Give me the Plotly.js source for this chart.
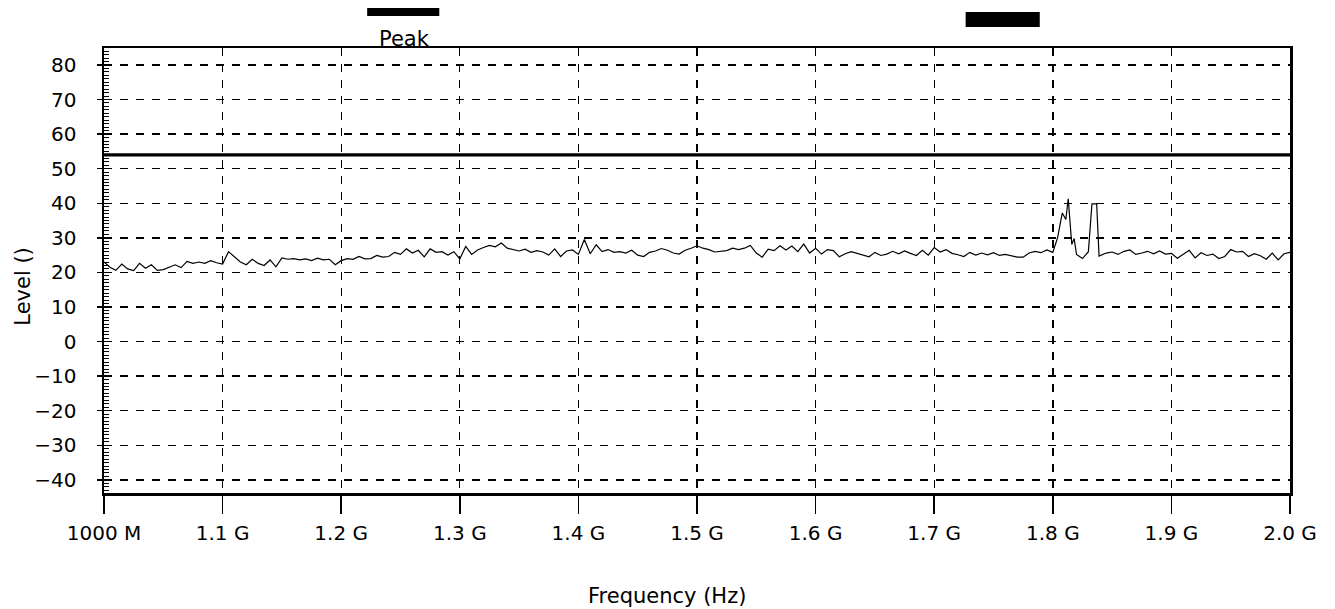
<!DOCTYPE html>
<html>
<head>
<meta charset="utf-8">
<script src="https://cdn.plot.ly/plotly-3.0.1.min.js"></script>
<style>html,body{margin:0;padding:0;background:#fff;}#chart{width:1335px;height:609px;}</style>
</head>
<body>
<div id="chart"></div>
<script>
// Frequency in MHz
const freqMHz = [
1000,1005,1010,1015,1020,1025,1030,1035,1040,1045,1050,1055,1060,1065,1070,1075,1080,1085,1090,1095,
1100,1105,1110,1115,1120,1125,1130,1135,1140,1145,1150,1155,1160,1165,1170,1175,1180,1185,1190,1195,
1200,1205,1210,1215,1220,1225,1230,1235,1240,1245,1250,1255,1260,1265,1270,1275,1280,1285,1290,1295,
1300,1305,1310,1315,1320,1325,1330,1335,1340,1345,1350,1355,1360,1365,1370,1375,1380,1385,1390,1395,
1400,1405,1410,1415,1420,1425,1430,1435,1440,1445,1450,1455,1460,1465,1470,1475,1480,1485,1490,1495,
1500,1505,1510,1515,1520,1525,1530,1535,1540,1545,1550,1555,1560,1565,1570,1575,1580,1585,1590,1595,
1600,1605,1610,1615,1620,1625,1630,1635,1640,1645,1650,1655,1660,1665,1670,1675,1680,1685,1690,1695,
1700,1705,1710,1715,1720,1725,1730,1735,1740,1745,1750,1755,1760,1765,1770,1775,1780,1785,1790,1795,
1800,1804,1808,1811,1813,1816,1818,1820,1825,1830,1833,1837,1839,1845,1850,1855,1860,1865,1870,1875,
1880,1885,1890,1895,1900,1905,1910,1915,1920,1925,1930,1935,1940,1945,1950,1955,1960,1965,1970,1975,
1980,1985,1990,1995,2000
];
// Peak level
const peakLevel = [
23.0,21.5,20.6,22.4,21.0,20.5,22.6,21.2,22.2,20.6,20.8,21.6,22.2,21.4,23.2,22.6,23.0,22.6,23.4,22.8,
22.4,26.0,24.6,23.0,22.2,23.8,22.6,22.0,23.6,21.6,24.2,23.8,24.0,23.6,23.9,23.4,24.1,23.6,23.8,22.2,
23.4,24.0,23.8,24.6,23.9,24.0,24.9,24.4,24.6,25.8,25.2,26.8,25.6,26.4,24.5,26.8,25.8,26.0,25.0,26.0,
23.9,27.5,25.2,26.5,27.2,27.8,27.4,28.5,27.0,26.5,26.2,26.7,25.8,26.3,25.9,25.0,26.8,24.6,26.2,26.5,
25.2,29.5,25.4,28.0,26.0,26.6,25.8,26.0,25.6,26.4,25.0,24.6,25.8,26.2,26.9,26.4,25.6,25.3,26.4,27.0,
27.7,27.0,26.6,25.9,26.2,26.3,27.0,26.6,27.0,27.8,25.6,24.4,26.7,26.3,27.7,26.5,27.6,26.0,28.2,25.6,
27.0,25.3,26.6,26.3,24.5,25.4,26.0,25.5,24.8,24.5,25.8,24.9,25.3,26.1,25.4,26.2,25.5,24.9,26.4,25.0,
27.2,25.9,26.6,25.5,25.1,24.6,25.8,25.0,25.6,25.1,25.7,24.9,25.2,24.8,24.4,24.4,25.6,26.1,25.7,26.5,
25.8,30.0,37.2,35.3,41.3,28.1,29.8,25.2,24.0,26.0,39.8,39.8,24.7,25.6,25.9,25.2,26.1,26.5,25.2,25.6,
26.1,25.4,26.2,25.3,25.5,24.1,25.2,26.4,24.2,25.7,24.9,25.3,24.0,24.6,26.6,25.9,26.1,24.6,25.4,24.8,
23.8,25.6,23.6,25.4,25.8
];
// Limit line
const limitFreq = [1000, 2000];
const limitLevel = [54, 54];

const xTickVals = [1000,1100,1200,1300,1400,1500,1600,1700,1800,1900,2000];
const xTickText = ['1000 M','1.1 G','1.2 G','1.3 G','1.4 G','1.5 G','1.6 G','1.7 G','1.8 G','1.9 G','2.0 G'];
const yTickVals = [-40,-30,-20,-10,0,10,20,30,40,50,60,70,80];

const FONT = 'DejaVu Sans, Verdana, sans-serif';

const traces = [
  {x: freqMHz, y: peakLevel, type: 'scatter', mode: 'lines', name: 'Peak',
   line: {color: '#000', width: 1.2}, showlegend: false},
  {x: limitFreq, y: limitLevel, type: 'scatter', mode: 'lines', name: 'Limit',
   line: {color: '#000', width: 3.2}, showlegend: false}
];

const layout = {
  width: 1335, height: 609,
  margin: {l: 104, r: 45, t: 48, b: 116},
  paper_bgcolor: '#fff', plot_bgcolor: '#fff',
  font: {family: FONT, size: 20, color: '#000'},
  showlegend: false,
  xaxis: {
    range: [1000, 2000], tickvals: xTickVals, ticktext: xTickText,
    showline: true, linecolor: '#000', linewidth: 2.5, mirror: true,
    ticks: 'outside', ticklen: 18, tickcolor: '#000', tickwidth: 1.5,
    ticklabelstandoff: 2,
    showgrid: true, gridcolor: '#000', gridwidth: 1.4, griddash: '8px,8px',
    zeroline: false,
    tickfont: {family: FONT, size: 20, color: '#000'}
  },
  yaxis: {
    range: [-43.8, 84.9], tickvals: yTickVals,
    showline: true, linecolor: '#000', linewidth: 2.5, mirror: true,
    ticks: 'outside', ticklen: 5, tickcolor: '#000', tickwidth: 1.5,
    ticklabelstandoff: 16,
    minor: {dtick: 1, ticks: 'inside', ticklen: 5, tickcolor: '#000', tickwidth: 1, showgrid: false},
    showgrid: true, gridcolor: '#000', gridwidth: 1.4, griddash: '8px,8px',
    zeroline: false,
    tickfont: {family: FONT, size: 20, color: '#000'}
  },
  shapes: [
    {type: 'rect', xref: 'paper', yref: 'paper', x0: 0.2219, x1: 0.2827, y0: 1.0721, y1: 1.0901,
     fillcolor: '#000', line: {width: 0}},
    {type: 'rect', xref: 'paper', yref: 'paper', x0: 0.7265, x1: 0.7890, y0: 1.0473, y1: 1.0811,
     fillcolor: '#000', line: {width: 0}}
  ],
  annotations: [
    {text: 'Peak', xref: 'paper', yref: 'paper', x: 0.2531, y: 1.0203, showarrow: false,
     xanchor: 'center', yanchor: 'middle', font: {family: FONT, size: 21, color: '#000'}},
    {text: 'Frequency (Hz)', xref: 'paper', yref: 'paper', x: 0.4743, y: -0.232, showarrow: false,
     xanchor: 'center', yanchor: 'middle', font: {family: FONT, size: 21, color: '#000'}},
    {text: 'Level ()', xref: 'paper', yref: 'paper', x: -0.069, y: 0.464, textangle: -90, showarrow: false,
     xanchor: 'center', yanchor: 'middle', font: {family: FONT, size: 21, color: '#000'}}
  ]
};

Plotly.newPlot('chart', traces, layout, {displayModeBar: false, staticPlot: true});
</script>
</body>
</html>
